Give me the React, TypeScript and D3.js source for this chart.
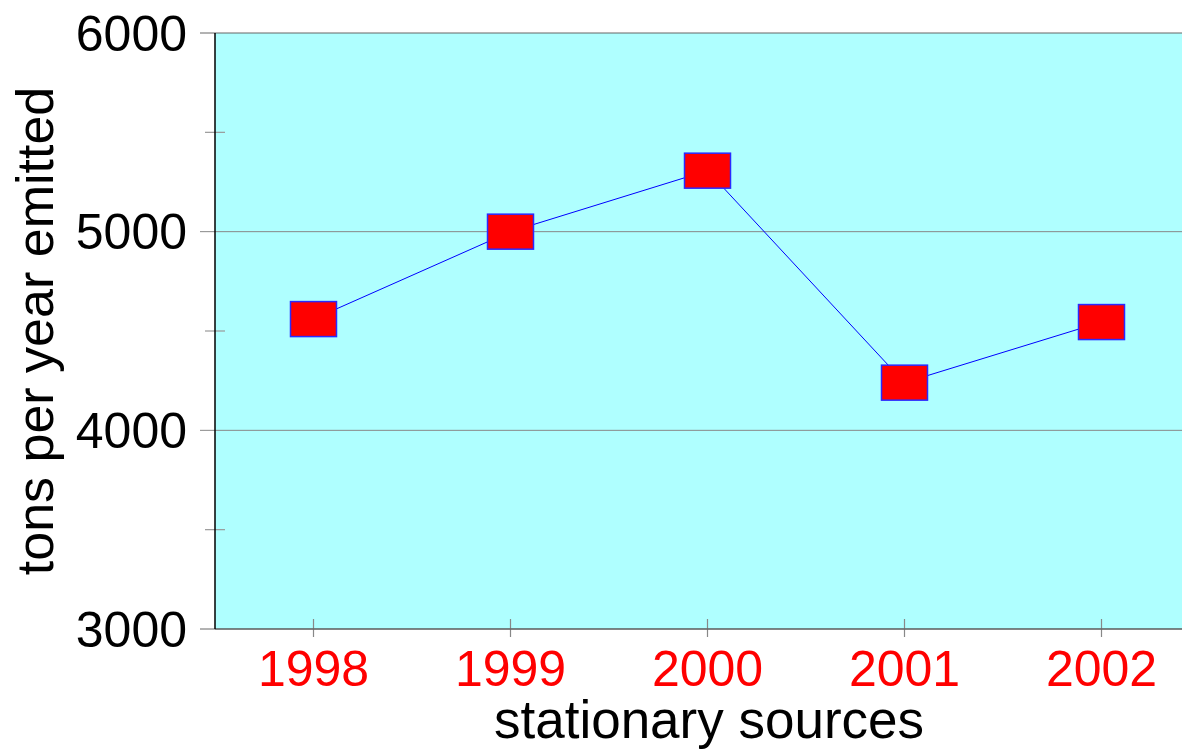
import React from "react";
import * as d3 from "d3";

const years = ["1998", "1999", "2000", "2001", "2002"];
const emissions = [4560, 5000, 5307, 4240, 4545];
const majorTicks = [3000, 4000, 5000, 6000];
const minorTicks = [3500, 4500, 5500];

const W = 1182;
const H = 753;
const margin = { top: 33, right: -18, bottom: 124, left: 215 };

export default function App() {
  const innerW = W - margin.left - margin.right;
  const innerH = H - margin.top - margin.bottom;

  const x = d3.scaleBand().domain(years).range([0, innerW]);
  const y = d3.scaleLinear().domain([3000, 6000]).range([innerH, 0]);
  const cx = (d: string) => (x(d) as number) + x.bandwidth() / 2;

  const line = d3
    .line<number>()
    .x((_, i) => cx(years[i]))
    .y((d) => y(d));

  const font = "'Liberation Sans', Arial, sans-serif";

  return (
    <svg
      width={W}
      height={H}
      style={{ position: "absolute", left: 0, top: 0, background: "#fff" }}
    >
      <g transform={`translate(${margin.left},${margin.top})`}>
        <rect x={0} y={0} width={innerW} height={innerH} fill="#afffff" />
        {/* gridlines + major ticks */}
        {majorTicks.map((t) => (
          <line
            key={t}
            x1={-15}
            x2={innerW}
            y1={y(t)}
            y2={y(t)}
            stroke={t === 6000 || t === 3000 ? "#666" : "#888"}
            strokeWidth={1}
          />
        ))}
        {minorTicks.map((t) => (
          <line key={t} x1={-10} x2={10} y1={y(t)} y2={y(t)} stroke="#999" strokeWidth={1.2} />
        ))}
        {years.map((yr) => (
          <line
            key={yr}
            x1={cx(yr)}
            x2={cx(yr)}
            y1={innerH - 10}
            y2={innerH + 8}
            stroke="#888"
            strokeWidth={1.2}
          />
        ))}
        <line x1={0} x2={innerW} y1={innerH} y2={innerH} stroke="#555" strokeWidth={1.2} />
        <line x1={0} x2={0} y1={0} y2={innerH} stroke="#000" strokeWidth={1.5} />

        {majorTicks.map((t) => (
          <text
            key={t}
            x={-28}
            y={y(t)}
            dy="0.35em"
            textAnchor="end"
            fontFamily={font}
            fontSize={50}
            fill="#000"
          >
            {t}
          </text>
        ))}
        {years.map((yr) => (
          <text
            key={yr}
            x={cx(yr)}
            y={innerH + 57}
            textAnchor="middle"
            fontFamily={font}
            fontSize={50}
            fill="#ff0000"
          >
            {yr}
          </text>
        ))}

        <path d={line(emissions) || ""} fill="none" stroke="#0000ff" strokeWidth={1} />
        {emissions.map((v, i) => (
          <rect
            key={years[i]}
            x={cx(years[i]) - 23}
            y={y(v) - 17.5}
            width={46}
            height={35}
            fill="#ff0000"
            stroke="#2a2aff"
            strokeWidth={1.5}
          />
        ))}
      </g>
      <text
        x={709}
        y={738}
        textAnchor="middle"
        fontFamily={font}
        fontSize={53}
        fill="#000"
      >
        stationary sources
      </text>
      <text
        transform={`translate(53,${margin.top + innerH / 2}) rotate(-90)`}
        textAnchor="middle"
        fontFamily={font}
        fontSize={52}
        fill="#000"
      >
        tons per year emitted
      </text>
    </svg>
  );
}
